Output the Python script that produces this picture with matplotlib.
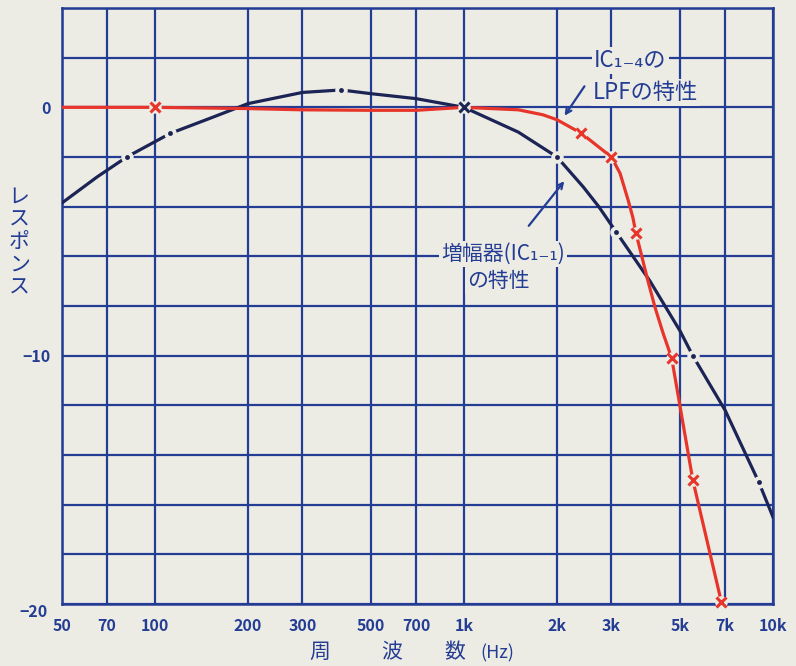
import matplotlib
matplotlib.use('Agg')
import matplotlib.pyplot as plt

plt.rcParams['font.family'] = ['Noto Sans CJK JP', 'DejaVu Sans']

# grid positions / tick labels
x_ticks = [50, 70, 100, 200, 300, 500, 700, 1000, 2000, 3000, 5000, 7000, 10000]
x_labels = ['50', '70', '100', '200', '300', '500', '700', '1k', '2k', '3k', '5k', '7k', '10k']
y_ticks = [4, 2, 0, -2, -4, -6, -8, -10, -12, -14, -16, -18, -20]

# 増幅器 (IC1-1)
blue_f = [50, 65, 81, 112, 150, 200, 300, 400, 500, 700, 1000, 1500, 2000, 2430, 2730, 3100,
          4000, 5000, 5500, 7000, 9000, 10000]
blue_db = [-3.85, -2.8, -2.0, -1.05, -0.45, 0.15, 0.6, 0.7, 0.55, 0.35, 0.0, -1.0, -2.0, -3.2, -4.0, -5.0,
           -7.0, -9.0, -10.0, -12.2, -15.1, -16.5]
blue_mark_f = [81, 112, 400, 2000, 3100, 5500, 9000]
blue_mark_db = [-2.0, -1.05, 0.7, -2.0, -5.0, -10.0, -15.1]

# IC1-4 LPF
red_f = [50, 100, 200, 300, 500, 700, 1000, 1500, 1800, 2000, 2400, 3000, 3200, 3400, 3520, 3600,
         3770, 3940, 4150, 4410, 4700, 5500, 6800]
red_db = [0, 0, -0.05, -0.1, -0.12, -0.12, 0.0, -0.1, -0.3, -0.5, -1.05, -2.0, -2.66, -3.75, -4.44, -5.05,
          -6.05, -7.0, -8.05, -9.1, -10.1, -15.0, -19.9]
red_mark_f = [100, 2400, 3000, 3600, 4700, 5500, 6800]
red_mark_db = [0, -1.05, -2.0, -5.05, -10.1, -15.0, -19.9]
common_f = [1000]
common_db = [0.0]

paper = '#edece4'
ink = '#233c94'
navy = '#1c2456'
red = '#e8352b'

W, H = 796, 666
fig = plt.figure(figsize=(W / 100, H / 100), dpi=100, facecolor=paper)
ax = fig.add_axes([62 / W, 1 - 604 / H, 711 / W, 596 / H], facecolor=paper)


def fp(x, y):
    return (x / W, 1 - y / H)


ax.set_xscale('log')
ax.set_xlim(50, 10000)
ax.set_ylim(-20, 4)
ax.set_xticks(x_ticks)
ax.set_xticklabels(x_labels)
ax.xaxis.set_minor_locator(matplotlib.ticker.NullLocator())
ax.set_yticks(y_ticks)
ax.set_yticklabels(['0' if v == 0 else ('−10' if v == -10 else '') for v in y_ticks])
ax.tick_params(length=0, colors=ink, labelsize=11.5)
ax.tick_params(axis='x', pad=10)
ax.tick_params(axis='y', pad=8)
for lab in ax.get_xticklabels() + ax.get_yticklabels():
    lab.set_fontweight('bold')
ax.grid(True, color=ink, lw=1.6, zorder=1)
for s in ax.spines.values():
    s.set_color(ink)
    s.set_linewidth(1.8)

ax.plot(blue_f, blue_db, color=navy, lw=2.3, zorder=3)
ax.plot(red_f, red_db, color=red, lw=2.3, zorder=3)

# gaps + marks
ax.plot(blue_mark_f, blue_mark_db, 'o', ms=9, color=paper, mec='none', zorder=4)
ax.plot(blue_mark_f, blue_mark_db, 'o', ms=3.5, color=navy, mec='none', zorder=5)
ax.plot(red_mark_f, red_mark_db, 'o', ms=9, color=paper, mec='none', zorder=4, clip_on=False)
ax.plot(red_mark_f, red_mark_db, 'x', ms=7, mew=2.2, color=red, zorder=5, clip_on=False)
ax.plot(common_f, common_db, 'o', ms=9, color=paper, mec='none', zorder=4)
ax.plot(common_f, common_db, 'x', ms=7, mew=2.2, color=navy, zorder=5)

fig.text(*fp(34, 612), '−20', color=ink, fontsize=11.5, fontweight='bold', ha='center', va='center')

# axis labels
fig.text(*fp(19, 242), '\n'.join('レスポンス'), color=ink, fontsize=15, ha='center', va='center',
         linespacing=1.05)
for xx, t in [(320, '周'), (392, '波'), (455, '数')]:
    fig.text(*fp(xx, 652), t, color=ink, fontsize=15, ha='center', va='center')
fig.text(*fp(497, 653), '(Hz)', color=ink, fontsize=13, ha='center', va='center')

# annotations
box = dict(facecolor=paper, edgecolor='none', pad=1.5)
fig.text(*fp(594, 60), 'IC₁₋₄の', color=ink, fontsize=16, ha='left', va='center', bbox=box, zorder=6)
fig.text(*fp(593, 92), 'LPFの特性', color=ink, fontsize=16, ha='left', va='center', bbox=box, zorder=6)
fig.text(*fp(441, 254), '増幅器(IC₁₋₁)', color=ink, fontsize=15, ha='left', va='center', bbox=box, zorder=6)
fig.text(*fp(467, 281), 'の特性', color=ink, fontsize=15, ha='left', va='center', bbox=box, zorder=6)

ax.annotate('', xy=fp(563, 118), xycoords='figure fraction', xytext=fp(586, 84), textcoords='figure fraction',
            arrowprops=dict(arrowstyle='->', color=ink, lw=1.6), zorder=6)
ax.annotate('', xy=fp(566, 179), xycoords='figure fraction', xytext=fp(527, 228), textcoords='figure fraction',
            arrowprops=dict(arrowstyle='->', color=ink, lw=1.6), zorder=6)

fig.savefig('out.png', dpi=100, facecolor=paper)
